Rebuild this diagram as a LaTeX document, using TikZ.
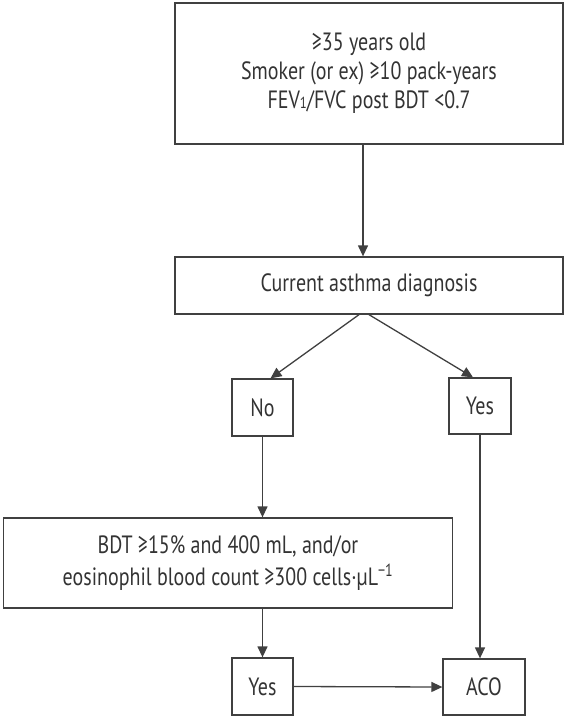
\documentclass[tikz,border=0pt]{standalone}
\usepackage{fontspec}
\setmainfont{PT Sans}[FakeStretch=0.8]
\usepackage{tikz}
\usetikzlibrary{arrows.meta}

\begin{document}
\begin{tikzpicture}[x=1pt,y=-1pt,->,>={Triangle[length=11pt,width=10pt]},line width=1.3pt,draw=black!75,
  every node/.style={font=\fontsize{25}{29}\selectfont,text=black!80}]
\tikzstyle{box}=[draw=black!75,line width=1.3pt,inner sep=0pt,align=center]
\useasboundingbox (0,0) rectangle (566,719);
\node[box,minimum width=388,minimum height=141] (crit) at (369,73.5)
  {≥35 years old\\ Smoker (or ex) ≥10 pack-years\\ FEV{\fontsize{16}{16}\selectfont 1}/FVC post BDT <0.7};
\node[box,minimum width=388,minimum height=57]  (asthma) at (369,285.5) {Current asthma diagnosis};
\node[box,minimum width=61,minimum height=57]   (no)   at (262.5,407.5) {No};
\node[box,minimum width=62,minimum height=56]   (yesA) at (480,406)    {Yes};
\node[box,minimum width=449,minimum height=90,font=\fontsize{25}{32}\selectfont] (bdt) at (228,563)
  {BDT ≥15\% and 400 mL, and/or\\ eosinophil blood count ≥300 cells·µL\textsuperscript{−1}};
\node[box,minimum width=61,minimum height=57]   (yesB) at (262.5,686.5) {Yes};
\node[box,minimum width=82,minimum height=56]   (aco)  at (484,687)    {ACO};
% connectors
\draw ([xshift=-6pt]crit.south) -- ([xshift=-6pt]asthma.north);
\draw ([xshift=-10pt]asthma.south) -- ([xshift=8pt]no.north);
\draw (asthma.south) -- ([xshift=-7pt]yesA.north);
\draw (no.south) -- (no.south |- bdt.north);
\draw (yesA.south) -- (yesA.south |- aco.north);
\draw (yesB.north |- bdt.south) -- (yesB.north);
\draw (yesB.east) -- (aco.west);
\end{tikzpicture}
\end{document}
